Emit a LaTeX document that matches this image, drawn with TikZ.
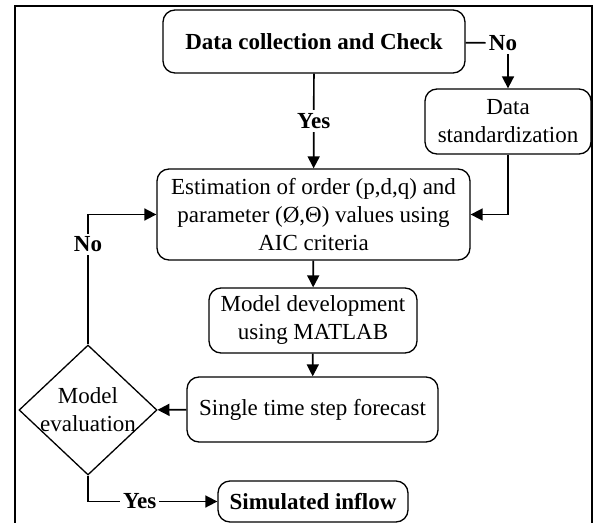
\documentclass[tikz,border=0pt]{standalone}
\usepackage{fontspec}
\setmainfont{Liberation Serif}
\usetikzlibrary{shapes.geometric,arrows.meta,positioning}

\begin{document}
\begin{tikzpicture}[
  x=0.5pt,y=-0.5pt,
  font=\fontsize{11.5}{14}\selectfont,
  procbox/.style={draw,rounded corners=6pt,line width=0.65pt,align=center,inner sep=2pt},
  decision/.style={draw,diamond,line width=0.65pt,minimum width=69pt,minimum height=65pt,inner sep=0pt},
  flow/.style={-{Triangle[length=6pt,width=6pt]},line width=0.85pt},
  plain/.style={line width=0.85pt},
  tag/.style={font=\fontsize{11.5}{14}\selectfont\bfseries,fill=white,inner sep=1.5pt}
]
  \useasboundingbox (0,0) rectangle (598,523);
  \draw[line width=1pt] (15,523) -- (15,6) -- (592,6) -- (592,523);

  \node[procbox,minimum width=151pt,minimum height=31.5pt,font=\fontsize{11.5}{14}\selectfont\bfseries] (check) at (314,41.5) {Data collection and Check};
  \node[procbox,minimum width=83pt,minimum height=32.5pt] (stdz) at (508,121.5) {Data\\standardization};
  \node[procbox,minimum width=156.5pt,minimum height=45.5pt] (estim) at (313.5,214.5) {Estimation of order (p,d,q) and\\parameter (Ø,Θ) values using\\AIC criteria};
  \node[procbox,minimum width=104pt,minimum height=32.5pt] (mdev) at (313,320.5) {Model development\\using MATLAB};
  \node[procbox,minimum width=125.5pt,minimum height=32.5pt] (fcast) at (312.5,409.5) {Single time step forecast};
  \node[decision,label={[align=center,inner sep=0pt]center:Model\\evaluation}] (evalm) at (88,410) {};
  \node[procbox,minimum width=95pt,minimum height=20.5pt,font=\fontsize{11.5}{14}\selectfont\bfseries] (inflow) at (313,501.5) {Simulated inflow};
  \node[tag,fill=none] (nolbl) at (503,43) {No};

  \draw[plain] (check) -- (nolbl);
  \draw[flow] (stdz.north |- nolbl.south) -- (stdz.north);
  \draw[flow] (check) -- node[tag]{Yes} (estim);
  \draw[flow] (stdz.south) |- (estim.east);
  \draw[flow] (estim) -- (mdev);
  \draw[flow] (mdev) -- (fcast);
  \draw[flow] (fcast) -- (evalm);
  \draw[flow] (evalm.north) |- node[tag,pos=0.385]{No} (estim.west);
  \draw[flow] (evalm.south) |- node[tag,pos=0.7]{Yes} (inflow.west);
\end{tikzpicture}
\end{document}
